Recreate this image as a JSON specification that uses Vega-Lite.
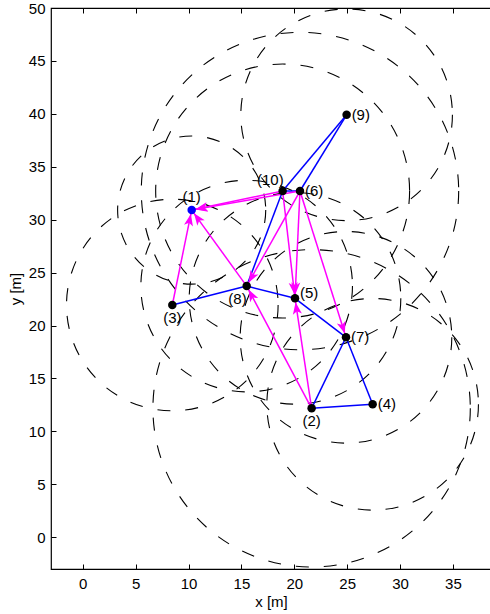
{
  "$schema": "https://vega.github.io/schema/vega-lite/v6.json",
  "width": 440,
  "height": 561,
  "autosize": {"type": "none"},
  "padding": {"left": 51, "top": 8, "right": 0, "bottom": 45},
  "background": "white",
  "config": {
    "view": {"stroke": "black", "strokeWidth": 1.2},
    "font": "Liberation Sans",
    "axis": {
      "domain": false,
      "grid": false,
      "tickColor": "black",
      "tickSize": -5,
      "tickWidth": 1,
      "labelFont": "Liberation Sans",
      "labelFontSize": 15,
      "labelColor": "black",
      "titleFont": "Liberation Sans",
      "titleFontSize": 15,
      "titleFontWeight": "normal",
      "titleColor": "black"
    },
    "text": {"font": "Liberation Sans", "fontSize": 15, "color": "black"}
  },
  "datasets": {
    "nodes": [
      {"id": 1, "x": 10.30, "y": 30.91, "range": 7, "label": "(1)"},
      {"id": 2, "x": 21.64, "y": 12.18, "range": 15, "label": "(2)"},
      {"id": 3, "x": 8.47, "y": 21.94, "range": 10, "label": "(3)"},
      {"id": 4, "x": 27.41, "y": 12.56, "range": 10, "label": "(4)"},
      {"id": 5, "x": 20.07, "y": 22.57, "range": 10, "label": "(5)"},
      {"id": 6, "x": 20.54, "y": 32.71, "range": 15, "label": "(6)"},
      {"id": 7, "x": 24.89, "y": 18.89, "range": 10, "label": "(7)"},
      {"id": 8, "x": 15.50, "y": 23.73, "range": 10, "label": "(8)"},
      {"id": 9, "x": 24.95, "y": 39.91, "range": 10, "label": "(9)"},
      {"id": 10, "x": 18.90, "y": 32.71, "range": 12, "label": "(10)"}
    ],
    "edges": [
      {"from": 3, "to": 8},
      {"from": 8, "to": 5},
      {"from": 5, "to": 7},
      {"from": 7, "to": 2},
      {"from": 7, "to": 4},
      {"from": 2, "to": 4},
      {"from": 8, "to": 10},
      {"from": 10, "to": 9},
      {"from": 6, "to": 9},
      {"from": 10, "to": 6}
    ],
    "arrows": [
      {"from": 3, "to": 1},
      {"from": 8, "to": 1},
      {"from": 10, "to": 1},
      {"from": 6, "to": 1},
      {"from": 6, "to": 8},
      {"from": 10, "to": 5},
      {"from": 6, "to": 5},
      {"from": 2, "to": 5},
      {"from": 2, "to": 8},
      {"from": 6, "to": 7}
    ]
  },
  "encoding": {
    "x": {"field": "x", "type": "quantitative", "scale": {"domain": [-3, 38.6], "nice": false, "zero": false}, "axis": null},
    "y": {"field": "y", "type": "quantitative", "scale": {"domain": [-3, 50], "nice": false, "zero": false}, "axis": null}
  },
  "layer": [
    {
      "description": "communication range of each node, drawn as a dashed circle",
      "data": {"name": "nodes"},
      "mark": {"type": "point", "shape": "circle", "filled": false, "stroke": "black", "strokeWidth": 1.1, "strokeDash": [13, 15], "opacity": 1},
      "encoding": {
        "x": {"field": "x", "type": "quantitative", "scale": {"domain": [-3, 38.6], "nice": false, "zero": false},
              "axis": {"orient": "top", "values": [0, 5, 10, 15, 20, 25, 30, 35], "labels": false, "title": null}},
        "size": {"field": "range", "type": "quantitative", "legend": null,
                 "scale": {"type": "pow", "exponent": 2, "domain": [0, 20], "range": [0, 179098]}}
      }
    },
    {
      "description": "two-way links",
      "data": {"name": "edges"},
      "transform": [
        {"lookup": "from", "from": {"data": {"name": "nodes"}, "key": "id", "fields": ["x", "y"]}, "as": ["x", "y"]},
        {"lookup": "to", "from": {"data": {"name": "nodes"}, "key": "id", "fields": ["x", "y"]}, "as": ["xt", "yt"]}
      ],
      "mark": {"type": "rule", "color": "#0000ff", "strokeWidth": 1.5},
      "encoding": {
        "x2": {"field": "xt"},
        "y2": {"field": "yt"}
      }
    },
    {
      "description": "one-way links",
      "data": {"name": "arrows"},
      "transform": [
        {"lookup": "from", "from": {"data": {"name": "nodes"}, "key": "id", "fields": ["x", "y"]}, "as": ["xs", "ys"]},
        {"lookup": "to", "from": {"data": {"name": "nodes"}, "key": "id", "fields": ["x", "y"]}, "as": ["x", "y"]},
        {"calculate": "atan2(datum.x - datum.xs, datum.y - datum.ys) * 180 / PI", "as": "heading"}
      ],
      "layer": [
        {
          "mark": {"type": "rule", "color": "#ff00ff", "strokeWidth": 1.5},
          "encoding": {
            "x2": {"field": "xs"},
            "y2": {"field": "ys"}
          }
        },
        {
          "mark": {"type": "point", "shape": "M0,0.33L0.38,1.33L0,1.08L-0.38,1.33Z", "filled": true, "color": "#ff00ff", "opacity": 1, "size": 576},
          "encoding": {
            "angle": {"field": "heading", "type": "quantitative", "scale": null}
          }
        }
      ]
    },
    {
      "description": "node positions",
      "data": {"name": "nodes"},
      "mark": {"type": "point", "shape": "circle", "filled": true, "opacity": 1, "size": 72},
      "encoding": {
        "x": {"field": "x", "type": "quantitative", "scale": {"domain": [-3, 38.6], "nice": false, "zero": false},
              "axis": {"orient": "bottom", "values": [0, 5, 10, 15, 20, 25, 30, 35], "labelPadding": 12, "title": "x [m]", "titlePadding": 3}},
        "y": {"field": "y", "type": "quantitative", "scale": {"domain": [-3, 50], "nice": false, "zero": false},
              "axis": {"orient": "left", "values": [0, 5, 10, 15, 20, 25, 30, 35, 40, 45, 50], "labelPadding": 11, "title": "y [m]", "titlePadding": 5}},
        "color": {"condition": {"test": "datum.id == 1", "value": "#0000ff"}, "value": "black"}
      }
    },
    {
      "data": {"name": "nodes"},
      "transform": [{"filter": {"field": "id", "oneOf": [4, 6, 7, 9]}}],
      "mark": {"type": "text", "align": "left", "baseline": "middle", "dx": 5, "dy": 0},
      "encoding": {"text": {"field": "label"}}
    },
    {
      "data": {"name": "nodes"},
      "transform": [{"filter": {"field": "id", "oneOf": [5]}}],
      "mark": {"type": "text", "align": "left", "baseline": "middle", "dx": 5, "dy": -5},
      "encoding": {"text": {"field": "label"}}
    },
    {
      "data": {"name": "nodes"},
      "transform": [{"filter": {"field": "id", "oneOf": [2, 3]}}],
      "mark": {"type": "text", "align": "center", "baseline": "middle", "dy": 13},
      "encoding": {"text": {"field": "label"}}
    },
    {
      "data": {"name": "nodes"},
      "transform": [{"filter": {"field": "id", "oneOf": [8]}}],
      "mark": {"type": "text", "align": "right", "baseline": "middle", "dx": 0, "dy": 13},
      "encoding": {"text": {"field": "label"}}
    },
    {
      "data": {"name": "nodes"},
      "transform": [{"filter": {"field": "id", "oneOf": [1]}}],
      "mark": {"type": "text", "align": "center", "baseline": "middle", "dy": -13},
      "encoding": {"text": {"field": "label"}}
    },
    {
      "data": {"name": "nodes"},
      "transform": [{"filter": {"field": "id", "oneOf": [10]}}],
      "mark": {"type": "text", "align": "right", "baseline": "middle", "dx": 1, "dy": -11},
      "encoding": {"text": {"field": "label"}}
    }
  ],
  "resolve": {"axis": {"x": "independent", "y": "independent"}}
}
